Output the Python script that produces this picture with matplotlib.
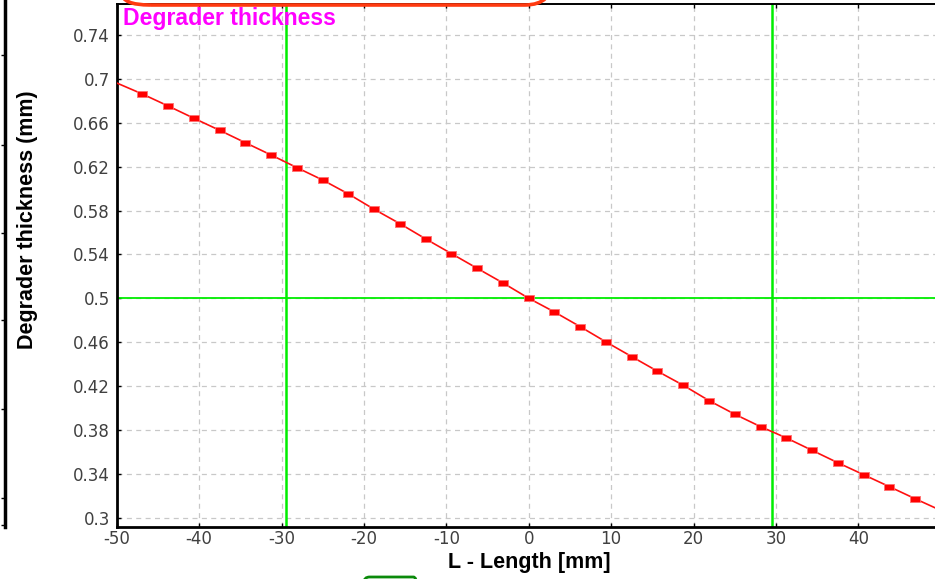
import matplotlib.pyplot as plt
from matplotlib.patches import FancyBboxPatch
from matplotlib.path import Path

plt.rcParams["axes.unicode_minus"] = False

# Degrader thickness profile along the length (mm)
length_mm = [
    -50.0, -46.875, -43.75, -40.625, -37.5, -34.375, -31.25, -28.125, -25.0,
    -21.875, -18.75, -15.625, -12.5, -9.375, -6.25, -3.125, 0.0, 3.125, 6.25,
    9.375, 12.5, 15.625, 18.75, 21.875, 25.0, 28.125, 31.25, 34.375, 37.5,
    40.625, 43.75, 46.875, 50.0,
]
thickness_mm = [
    0.6963, 0.6862, 0.6753, 0.6641, 0.6531, 0.6418, 0.6306, 0.6191, 0.6078,
    0.5951, 0.5811, 0.5680, 0.5541, 0.5407, 0.5273, 0.5140, 0.5000, 0.4875,
    0.4741, 0.4602, 0.4468, 0.4335, 0.4207, 0.4067, 0.3943, 0.3830, 0.3727,
    0.3614, 0.3501, 0.3392, 0.3283, 0.3173, 0.3066,
]

# cursor lines
cursor_x = [-29.5, 29.5]
cursor_y = 0.5

x_ticks = [-50, -40, -30, -20, -10, 0, 10, 20, 30, 40]
y_ticks = [0.30, 0.34, 0.38, 0.42, 0.46, 0.50, 0.54, 0.58, 0.62, 0.66, 0.70, 0.74]

W, H = 935, 579
fig = plt.figure(figsize=(W / 100, H / 100), dpi=100)
ax = fig.add_axes([116.7 / W, 1 - 527.3 / H, 1 - 116.7 / W, (527.3 - 4) / H])

ax.set_xlim(-50, 49.3)
ax.set_ylim(0.2912, 0.7683)

ax.grid(True, color="#c8c8c8", linestyle=(0, (4, 3.5)), linewidth=0.9)
ax.set_axisbelow(True)

for xc in cursor_x:
    ax.axvline(xc, color="#00ee00", linewidth=1.8, zorder=2)
ax.axhline(cursor_y, color="#00ee00", linewidth=1.3, zorder=2)

# flat rectangular markers
rect = Path([(-1.6, -1), (1.6, -1), (1.6, 1), (-1.6, 1), (-1.6, -1)],
            [Path.MOVETO, Path.LINETO, Path.LINETO, Path.LINETO, Path.CLOSEPOLY])
ax.plot(length_mm, thickness_mm, color="#ff1010", linewidth=1.2,
        marker=rect, markersize=7, markerfacecolor="red",
        markeredgecolor="#ff7070", markeredgewidth=0.6,
        markevery=slice(1, -1), zorder=3)

ax.set_xticks(x_ticks)
ax.set_yticks(y_ticks)
ax.set_yticklabels([f"{v:g}" for v in y_ticks])
ax.tick_params(direction="in", length=3, width=1, color="black",
               labelsize=12, labelcolor="#404040", top=True)
ax.tick_params(axis="y", pad=5.0)
ax.tick_params(axis="x", pad=2.0)

for side in ("left", "bottom"):
    ax.spines[side].set_linewidth(2)
ax.spines["top"].set_linewidth(1.4)
ax.spines["right"].set_visible(False)

label_font = dict(family="Liberation Sans", weight="bold", size=15.5, color="black")
ax.set_xlabel("L - Length [mm]", va="center", **label_font)
ax.xaxis.set_label_coords(0.504, -0.068)
ax.set_ylabel("Degrader thickness (mm)", va="center", **label_font)
ax.yaxis.set_label_coords(-0.1096, 0.587)

fig.text(123 / W, 1 - 25 / H, "Degrader thickness", color="#ff00ff",
         family="Liberation Sans", weight="bold", size=16.6, va="baseline")

# neighbouring panel edge on the left
side = fig.add_axes([-0.2, 1 - 527 / H, 0.2 + 4.5 / W, 527 / H + 0.05])
side.set_xlim(0, 1)
side.set_ylim(527, -40)
side.patch.set_visible(False)
for s in ("left", "top", "bottom"):
    side.spines[s].set_visible(False)
side.spines["right"].set_linewidth(2.5)
side.yaxis.tick_right()
side.set_yticks([46, 137, 227, 316, 407, 497, 525])
side.tick_params(axis="y", direction="in", length=3, width=1, labelright=False)
side.set_xticks([])

# tab outlines at the top and bottom edges
fig.add_artist(FancyBboxPatch((122 / W, 1 - 5 / H), 431 / W, 40 / H,
                              boxstyle="round,pad=0,rounding_size=0.03",
                              transform=fig.transFigure, facecolor="none",
                              edgecolor="#ff3a10", linewidth=2.6,
                              mutation_aspect=W / H, zorder=10))
fig.add_artist(FancyBboxPatch((364 / W, 1 - 617 / H), 55 / W, 40 / H,
                              boxstyle="round,pad=0,rounding_size=0.006",
                              transform=fig.transFigure, facecolor="none",
                              edgecolor="#0a8a0a", linewidth=2.0,
                              mutation_aspect=W / H, zorder=10))

fig.savefig("out.png", dpi=100)
